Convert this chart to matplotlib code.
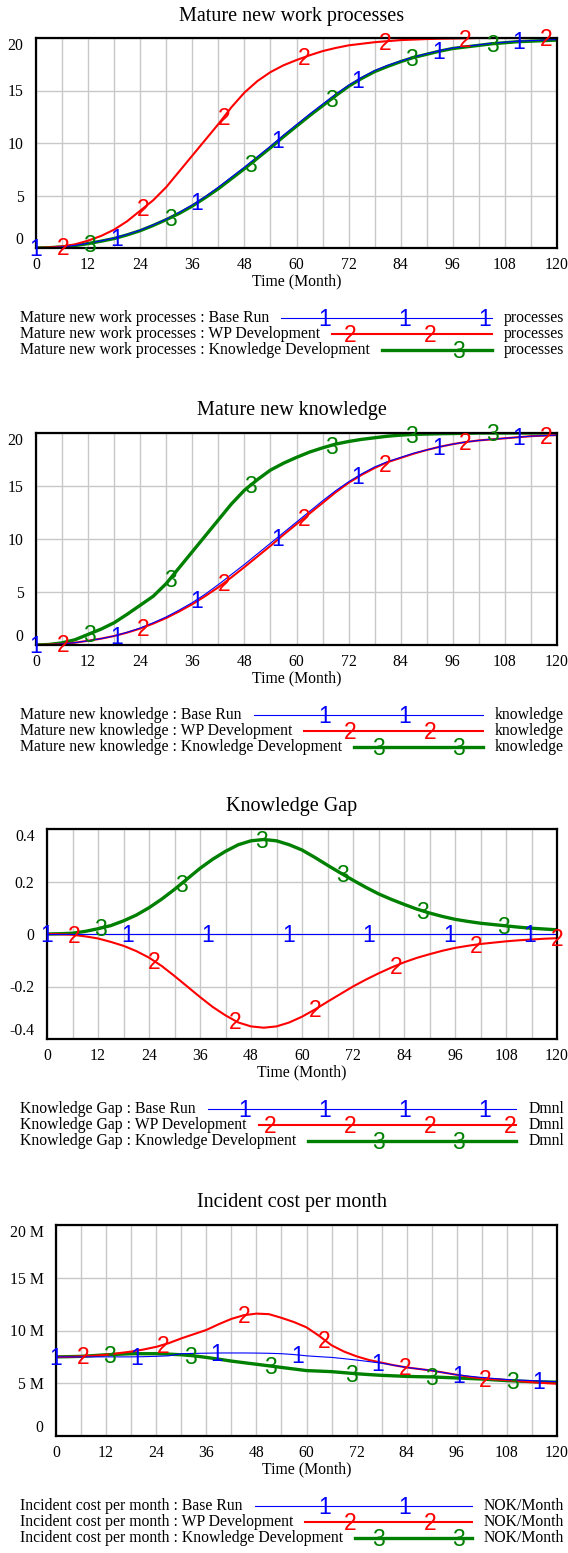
import matplotlib.pyplot as plt
import numpy as np
from matplotlib.transforms import offset_copy

plt.rcParams['font.family'] = ['Liberation Serif', 'DejaVu Serif']

W, H, DPI = 568, 1553, 100

months = list(range(0, 121, 3))

run_names = ['Base Run', 'WP Development', 'Knowledge Development']
run_colors = ['#0000ff', '#ff0000', '#008000']

# Mature new work processes (processes)
proc_base = [0, 0.03, 0.1, 0.25, 0.45, 0.68, 0.95, 1.3, 1.7, 2.2, 2.75,
             3.4, 4.1, 4.9, 5.8, 6.75, 7.7, 8.7, 9.7, 10.75, 11.75,
             12.75, 13.7, 14.65, 15.5, 16.25, 16.9, 17.4, 17.8, 18.2, 18.5,
             18.8, 19.05, 19.2, 19.35, 19.5, 19.6, 19.7, 19.75, 19.8, 19.85]
proc_wp = [0, 0.05, 0.15, 0.35, 0.7, 1.15, 1.75, 2.55, 3.55, 4.55, 5.8,
           7.3, 8.8, 10.3, 11.8, 13.4, 14.8, 15.9, 16.75, 17.4, 17.9,
           18.35, 18.75, 19.05, 19.3, 19.45, 19.6, 19.7, 19.8, 19.85, 19.9,
           19.93, 19.95, 19.97, 20.0, 20.0, 20.0, 20.0, 20.0, 20.0, 20.0]
proc_kd = [0, 0.03, 0.1, 0.23, 0.42, 0.65, 0.9, 1.25, 1.65, 2.15, 2.7,
           3.3, 4.0, 4.8, 5.65, 6.6, 7.55, 8.55, 9.55, 10.6, 11.6,
           12.6, 13.55, 14.5, 15.4, 16.15, 16.8, 17.3, 17.75, 18.15, 18.45,
           18.75, 19.0, 19.15, 19.3, 19.45, 19.55, 19.65, 19.7, 19.75, 19.8]

# Mature new knowledge (knowledge)
know_base = [0, 0.03, 0.1, 0.22, 0.4, 0.6, 0.85, 1.2, 1.6, 2.1, 2.65,
             3.3, 4.0, 4.8, 5.7, 6.65, 7.6, 8.6, 9.6, 10.6, 11.6,
             12.6, 13.6, 14.55, 15.4, 16.15, 16.8, 17.3, 17.7, 18.1, 18.4,
             18.7, 18.95, 19.15, 19.3, 19.4, 19.5, 19.6, 19.7, 19.75, 19.8]
know_wp = [0, 0.03, 0.1, 0.22, 0.4, 0.6, 0.85, 1.17, 1.55, 2.02, 2.55,
           3.17, 3.85, 4.62, 5.45, 6.38, 7.35, 8.35, 9.35, 10.4, 11.4,
           12.4, 13.4, 14.4, 15.3, 16.05, 16.7, 17.25, 17.65, 18.05, 18.4,
           18.7, 18.95, 19.15, 19.3, 19.4, 19.5, 19.6, 19.7, 19.75, 19.8]
know_kd = [0, 0.05, 0.2, 0.5, 1.0, 1.5, 2.1, 2.9, 3.75, 4.6, 5.8,
           7.3, 8.8, 10.3, 11.8, 13.3, 14.6, 15.6, 16.5, 17.15, 17.7,
           18.2, 18.6, 18.95, 19.2, 19.4, 19.55, 19.7, 19.8, 19.87, 19.9,
           19.93, 19.95, 19.97, 20.0, 20.0, 20.0, 20.0, 20.0, 20.0, 20.0]

# Knowledge Gap (Dmnl)
gap_base = [0] * 41
gap_wp = [0, -0.001, -0.003, -0.009, -0.017, -0.03, -0.045, -0.065, -0.09, -0.122, -0.16,
          -0.2, -0.24, -0.278, -0.31, -0.337, -0.352, -0.357, -0.352, -0.337, -0.315,
          -0.288, -0.258, -0.229, -0.2, -0.174, -0.15, -0.128, -0.108, -0.091, -0.077,
          -0.064, -0.053, -0.045, -0.038, -0.033, -0.028, -0.024, -0.021, -0.018, -0.016]
gap_kd = [0, 0.001, 0.003, 0.01, 0.02, 0.032, 0.05, 0.072, 0.1, 0.133, 0.17,
          0.21, 0.25, 0.285, 0.315, 0.34, 0.355, 0.36, 0.355, 0.34, 0.32,
          0.292, 0.262, 0.233, 0.205, 0.178, 0.153, 0.132, 0.113, 0.095, 0.08,
          0.067, 0.056, 0.048, 0.041, 0.036, 0.031, 0.026, 0.022, 0.019, 0.016]

# Incident cost per month (million NOK/Month)
cost_base = [7.5, 7.5, 7.5, 7.5, 7.5, 7.5, 7.5, 7.52, 7.55, 7.6, 7.8,
             7.83, 7.85, 7.87, 7.87, 7.87, 7.86, 7.84, 7.8, 7.72, 7.6,
             7.52, 7.45, 7.33, 7.2, 7.05, 6.9, 6.7, 6.5, 6.35, 6.2,
             6.0, 5.8, 5.67, 5.55, 5.45, 5.35, 5.3, 5.25, 5.2, 5.15]
cost_wp = [7.5, 7.5, 7.55, 7.6, 7.7, 7.85, 8.0, 8.2, 8.45, 8.8, 9.25,
           9.65, 10.05, 10.6, 11.1, 11.45, 11.6, 11.55, 11.2, 10.8, 10.3,
           9.5, 8.6, 8.0, 7.55, 7.2, 6.95, 6.7, 6.5, 6.35, 6.2,
           6.0, 5.8, 5.6, 5.45, 5.37, 5.3, 5.2, 5.1, 5.02, 4.95]
cost_kd = [7.5, 7.52, 7.55, 7.62, 7.7, 7.75, 7.8, 7.8, 7.8, 7.76, 7.7,
           7.6, 7.45, 7.28, 7.1, 6.95, 6.8, 6.65, 6.5, 6.35, 6.2,
           6.15, 6.1, 6.0, 5.9, 5.82, 5.75, 5.7, 5.65, 5.62, 5.6,
           5.55, 5.5, 5.45, 5.4, 5.32, 5.25, 5.2, 5.15, 5.12, 5.1]

panels = [
    dict(title='Mature new work processes', units='processes',
         series=[proc_base, proc_wp, proc_kd], box=(36, 38, 557, 248),
         ylim=(0, 20), yticks=[0, 5, 10, 15, 20],
         ylabels=['0', '5', '10', '15', '20']),
    dict(title='Mature new knowledge', units='knowledge',
         series=[know_base, know_wp, know_kd], box=(36, 433, 557, 645),
         ylim=(0, 20), yticks=[0, 5, 10, 15, 20],
         ylabels=['0', '5', '10', '15', '20']),
    dict(title='Knowledge Gap', units='Dmnl',
         series=[gap_base, gap_wp, gap_kd], box=(47, 829, 557, 1039),
         ylim=(-0.4, 0.4), yticks=[-0.4, -0.2, 0, 0.2, 0.4],
         ylabels=['-0.4', '-0.2', '0', '0.2', '0.4']),
    dict(title='Incident cost per month', units='NOK/Month',
         series=[[v * 1e6 for v in cost_base], [v * 1e6 for v in cost_wp],
                 [v * 1e6 for v in cost_kd]], box=(56, 1225, 557, 1436),
         ylim=(0, 20e6), yticks=[0, 5e6, 10e6, 15e6, 20e6],
         ylabels=['0', '5 M', '10 M', '15 M', '20 M']),
]

widths = [0.8, 1.5, 2.4]
num_fs = 16.5
num_font = 'Liberation Sans'
small_fs = 11.3

fig = plt.figure(figsize=(W / DPI, H / DPI), dpi=DPI)
lay = fig.add_axes([0, 0, 1, 1], zorder=5)
lay.set_xlim(0, W)
lay.set_ylim(H, 0)
lay.axis('off')
lay.patch.set_visible(False)


def number(ax, x, y, k, trans):
    # digit centred on the line (baseline pushed down by half the digit height)
    tr = offset_copy(trans, fig=fig, y=-0.716 * num_fs / 2, units='points')
    ax.text(x, y, str(k + 1), color=run_colors[k], fontsize=num_fs,
            family=num_font, ha='center', va='baseline', transform=tr,
            clip_on=False, zorder=10)


renderer = fig.canvas.get_renderer()

for p in panels:
    l, t, r, b = p['box']
    ax = fig.add_axes([l / W, 1 - b / H, (r - l) / W, (b - t) / H])
    for k in (2, 1, 0):
        ax.plot(months, p['series'][k], color=run_colors[k], lw=widths[k],
                zorder=3, solid_joinstyle='round')
    ax.set_xlim(0, 120)
    ax.set_ylim(*p['ylim'])
    ax.set_xticks(range(0, 121, 12))
    ax.set_xticks(range(0, 121, 6), minor=True)
    ax.set_yticks(p['yticks'])
    ax.set_yticklabels(p['ylabels'])
    ylab = ax.get_yticklabels()
    ylab[0].set_va('bottom')
    ylab[-1].set_va('top')
    ax.grid(True, which='both', axis='x', color='#c8c8c8', lw=1)
    ax.grid(True, which='major', axis='y', color='#c8c8c8', lw=1)
    ax.set_axisbelow(True)
    ax.tick_params(which='both', length=0, labelsize=small_fs)
    ax.tick_params(axis='y', pad=9)
    ax.tick_params(axis='x', pad=6.5)
    for s in ax.spines.values():
        s.set_linewidth(1.6)
        s.set_zorder(6)

    # numbered markers along each run
    step = 80.5 / (r - l) * 120
    for k in range(3):
        xs = np.arange(k * step / 3, 120.01, step)
        ys = np.interp(xs, months, p['series'][k])
        for xv, yv in zip(xs, ys):
            number(ax, xv, yv, k, ax.transData)

    lay.text(292, t - 22, p['title'], ha='center', va='center', fontsize=14.5)
    lay.text((l + r) / 2, b + 33, 'Time (Month)', ha='center', va='center',
             fontsize=small_fs)

    # legend rows
    for k in range(3):
        yk = b + 70 + 16 * k
        lab = lay.text(20, yk, p['title'] + ' : ' + run_names[k], ha='left',
                       va='center', fontsize=small_fs)
        un = lay.text(564, yk, p['units'], ha='right', va='center',
                      fontsize=small_fs)
        x0 = lab.get_window_extent(renderer).x1 + 12
        x1 = un.get_window_extent(renderer).x0 - 12
        lay.plot([x0, x1], [yk, yk], color=run_colors[k], lw=widths[k])
        phase = [5, 30, 58][k]
        for xm in np.arange(phase, W, 80):
            if x0 + 3 <= xm <= x1:
                number(lay, xm, yk, k, lay.transData)

fig.savefig('out.png', dpi=DPI)
